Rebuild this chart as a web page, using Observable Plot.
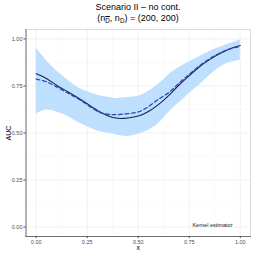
<!DOCTYPE html>
<html>
<head>
<meta charset="utf-8">
<script src="https://cdn.jsdelivr.net/npm/d3@7"></script>
<script src="https://cdn.jsdelivr.net/npm/@observablehq/plot@0.6"></script>
<style>
  body { margin: 0; background: #fff; font-family: "Liberation Sans", Arial, sans-serif; }
  #title { width: 254px; height: 27px; box-sizing: border-box; padding-left: 22px; padding-top: 1.5px;
           text-align: center; color: #000; font-size: 9px; line-height: 11.5px; }
  #title sub { font-size: 70%; vertical-align: -1.5px; line-height: 0; }
  .ob { text-decoration: overline; }
</style>
</head>
<body>
<div id="title">
  <div>Scenario II – no cont.</div>
  <div>(n<sub><span class="ob">D</span></sub>, n<sub>D</sub>) = (200, 200)</div>
</div>
<div id="chart"></div>
<script>
const xs        = [0, 0.05, 0.10, 0.15, 0.20, 0.25, 0.30, 0.35, 0.40, 0.45, 0.50, 0.55, 0.60, 0.65, 0.70, 0.75, 0.80, 0.85, 0.90, 0.95, 1.00];
const aucTrue   = [0.815, 0.790, 0.754, 0.722, 0.690, 0.655, 0.620, 0.592, 0.578, 0.580, 0.590, 0.614, 0.652, 0.700, 0.755, 0.805, 0.852, 0.890, 0.922, 0.948, 0.965];
const aucKernel = [0.786, 0.772, 0.745, 0.715, 0.685, 0.650, 0.615, 0.600, 0.598, 0.603, 0.612, 0.640, 0.680, 0.715, 0.765, 0.812, 0.857, 0.895, 0.925, 0.947, 0.960];
const bandLo    = [0.600, 0.622, 0.612, 0.590, 0.560, 0.535, 0.510, 0.500, 0.488, 0.482, 0.493, 0.515, 0.550, 0.610, 0.660, 0.710, 0.755, 0.805, 0.850, 0.875, 0.887];
const bandHi    = [0.950, 0.885, 0.830, 0.785, 0.745, 0.720, 0.700, 0.690, 0.683, 0.688, 0.695, 0.720, 0.760, 0.810, 0.848, 0.878, 0.905, 0.933, 0.956, 0.975, 0.995];
const majorTicks = [0, 0.25, 0.5, 0.75, 1];
const minorTicks = [0.125, 0.375, 0.625, 0.875];
const annotation = ["Kernel estimator"];

const data = xs.map((x, i) => ({x, t: aucTrue[i], k: aucKernel[i], lo: bandLo[i], hi: bandHi[i]}));

const chart = Plot.plot({
  width: 254,
  height: 227,
  marginLeft: 25.5,
  marginRight: 4,
  marginTop: 2,
  marginBottom: 18,
  style: {fontFamily: "'Liberation Sans', Arial, sans-serif", background: "#fff"},
  x: {domain: [-0.05, 1.05]},
  y: {domain: [-0.05, 1.05]},
  marks: [
    Plot.ruleX(minorTicks, {stroke: "#f2f2f2", strokeWidth: 0.4}),
    Plot.ruleY(minorTicks, {stroke: "#f2f2f2", strokeWidth: 0.4}),
    Plot.ruleX(majorTicks, {stroke: "#e8e8e8", strokeWidth: 0.6}),
    Plot.ruleY(majorTicks, {stroke: "#e8e8e8", strokeWidth: 0.6}),
    Plot.areaY(data, {x: "x", y1: "lo", y2: "hi", fill: "#bfdfff", curve: "natural"}),
    Plot.lineY(data, {x: "x", y: "t", stroke: "#1b2547", strokeWidth: 1.1, curve: "natural"}),
    Plot.lineY(data, {x: "x", y: "k", stroke: "#2b43b4", strokeWidth: 1.2, strokeDasharray: "4,2.5", curve: "natural"}),
    Plot.frame({stroke: "#c4c4c4", strokeWidth: 0.6}),
    Plot.axisX({ticks: majorTicks, tickFormat: ".2f", tickSize: 2, tickPadding: 1.5, fontSize: 5.5, color: "#4d4d4d", label: null}),
    Plot.axisY({ticks: majorTicks, tickFormat: ".2f", tickSize: 2, tickPadding: 1.5, fontSize: 5.5, color: "#4d4d4d", label: null}),
    Plot.frame({anchor: "left", stroke: "#444", strokeWidth: 0.7}),
    Plot.frame({anchor: "bottom", stroke: "#444", strokeWidth: 0.7}),
    Plot.text(["AUC"], {frameAnchor: "left", rotate: -90, dx: -17.5, textAnchor: "middle", lineAnchor: "middle", fontSize: 7, fill: "#000"}),
    Plot.text(["x"], {frameAnchor: "bottom", dy: 11, lineAnchor: "middle", fontSize: 7, fill: "#000"}),
    Plot.text(annotation, {frameAnchor: "bottom-right", dx: -18, dy: -10, fontSize: 5.5, fill: "#222"})
  ]
});
document.getElementById("chart").appendChild(chart);
</script>
</body>
</html>
